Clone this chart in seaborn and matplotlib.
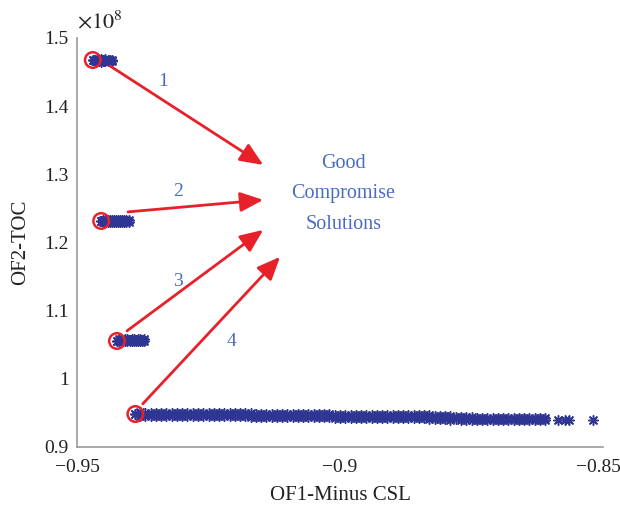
import matplotlib
matplotlib.use("Agg")
import matplotlib.pyplot as plt
import matplotlib.transforms as mtransforms
import seaborn as sns
import pandas as pd

# ---- Pareto front data (OF1 = -CSL, OF2 = TOC in units of 1e8) ----
# Front 1
x1 = [-0.9470, -0.9466, -0.9462, -0.9458, -0.9454, -0.9450, -0.9446, -0.9442, -0.9438, -0.9434]
y1_hi = [1.4677, 1.4684, 1.4685, 1.4683, 1.4686, 1.4684, 1.4685, 1.4683, 1.4684, 1.4682]
y1_lo = [1.4677, 1.4658, 1.4656, 1.4659, 1.4655, 1.4657, 1.4656, 1.4658, 1.4657, 1.4659]

# Front 2
x2 = [-0.9454, -0.9450, -0.9446, -0.9442, -0.9438, -0.9434, -0.9430, -0.9426, -0.9422,
      -0.9418, -0.9414, -0.9410, -0.9406, -0.9402]
y2_hi = [1.2316, 1.2330, 1.2331, 1.2329, 1.2330, 1.2331, 1.2329, 1.2330, 1.2330,
         1.2329, 1.2331, 1.2330, 1.2329, 1.2330]
y2_lo = [1.2316, 1.2303, 1.2302, 1.2304, 1.2302, 1.2303, 1.2302, 1.2304, 1.2303,
         1.2302, 1.2303, 1.2304, 1.2302, 1.2303]

# Front 3
x3 = [-0.9424, -0.9420, -0.9416, -0.9412, -0.9408, -0.9404, -0.9400, -0.9396, -0.9392,
      -0.9388, -0.9384, -0.9380, -0.9376, -0.9372]
y3_hi = [1.0555, 1.0578, 1.0579, 1.0577, 1.0578, 1.0579, 1.0577, 1.0578, 1.0578,
         1.0577, 1.0579, 1.0578, 1.0577, 1.0578]
y3_lo = [1.0555, 1.0553, 1.0552, 1.0554, 1.0552, 1.0553, 1.0552, 1.0554, 1.0553,
         1.0552, 1.0553, 1.0554, 1.0552, 1.0553]

# Front 4 (long front)
x4 = [-0.9389,
      -0.938, -0.937, -0.936, -0.935, -0.934, -0.933, -0.932, -0.931, -0.930, -0.929,
      -0.928, -0.927, -0.926, -0.925, -0.924, -0.923, -0.922, -0.921, -0.920, -0.919,
      -0.918, -0.917, -0.916, -0.915, -0.914, -0.913, -0.912, -0.911, -0.910, -0.909,
      -0.908, -0.907, -0.906, -0.905, -0.904, -0.903, -0.902, -0.901, -0.900, -0.899,
      -0.898, -0.897, -0.896, -0.895, -0.894, -0.893, -0.892, -0.891, -0.890, -0.889,
      -0.888, -0.887, -0.886, -0.885, -0.884, -0.883, -0.882, -0.881, -0.880, -0.879,
      -0.878, -0.877, -0.876, -0.875, -0.874, -0.873, -0.872, -0.871, -0.870, -0.869,
      -0.868, -0.867, -0.866, -0.865, -0.864, -0.863, -0.862, -0.861]
y4_hi = [0.9484,
         0.9507, 0.9505, 0.9506, 0.9504, 0.9503, 0.9504, 0.9502, 0.9501, 0.9502, 0.9500,
         0.9500, 0.9499, 0.9499, 0.9497, 0.9498, 0.9496, 0.9496, 0.9495, 0.9495, 0.9493,
         0.9493, 0.9492, 0.9491, 0.9491, 0.9489, 0.9489, 0.9487, 0.9487, 0.9485, 0.9485,
         0.9484, 0.9482, 0.9482, 0.9480, 0.9480, 0.9478, 0.9478, 0.9476, 0.9476, 0.9474,
         0.9474, 0.9473, 0.9472, 0.9472, 0.9471, 0.9470, 0.9470, 0.9469, 0.9468, 0.9468,
         0.9467, 0.9466, 0.9466, 0.9465, 0.9465, 0.9464, 0.9460, 0.9456, 0.9452, 0.9448,
         0.9437, 0.9435, 0.9434, 0.9433, 0.9432, 0.9432, 0.9431, 0.9431, 0.9430, 0.9430,
         0.9429, 0.9429, 0.9428, 0.9428, 0.9427, 0.9427, 0.9426, 0.9426]
y4_lo = [0.9484,
         0.9461, 0.9462, 0.9460, 0.9460, 0.9459, 0.9458, 0.9458, 0.9457, 0.9456, 0.9456,
         0.9455, 0.9454, 0.9454, 0.9453, 0.9452, 0.9452, 0.9451, 0.9450, 0.9450, 0.9449,
         0.9448, 0.9447, 0.9447, 0.9446, 0.9444, 0.9444, 0.9443, 0.9442, 0.9441, 0.9440,
         0.9439, 0.9438, 0.9437, 0.9436, 0.9435, 0.9434, 0.9433, 0.9432, 0.9431, 0.9430,
         0.9429, 0.9428, 0.9427, 0.9427, 0.9426, 0.9425, 0.9425, 0.9424, 0.9423, 0.9423,
         0.9421, 0.9420, 0.9420, 0.9419, 0.9419, 0.9418, 0.9414, 0.9410, 0.9406, 0.9402,
         0.9405, 0.9403, 0.9402, 0.9401, 0.9400, 0.9400, 0.9399, 0.9399, 0.9398, 0.9398,
         0.9397, 0.9397, 0.9396, 0.9396, 0.9395, 0.9395, 0.9394, 0.9394]
# sparse tail of front 4
x4_tail = [-0.8585, -0.8572, -0.8565, -0.8519]
y4_tail = [0.9398, 0.9397, 0.9396, 0.9396]

front_labels = ["1", "2", "3", "4"]
x_ticks = [-0.95, -0.9, -0.85]
x_tick_labels = ["\u22120.95", "\u22120.9", "\u22120.85"]
y_ticks = [0.9, 1.0, 1.1, 1.2, 1.3, 1.4, 1.5]
y_tick_labels = ["0.9", "1", "1.1", "1.2", "1.3", "1.4", "1.5"]

rows = []
for xs, yh, yl in [(x1, y1_hi, y1_lo), (x2, y2_hi, y2_lo), (x3, y3_hi, y3_lo), (x4, y4_hi, y4_lo)]:
    rows += list(zip(xs, yh)) + list(zip(xs, yl))
rows += list(zip(x4_tail, y4_tail))
df = pd.DataFrame(rows, columns=["OF1", "OF2"])

# selected compromise solutions (first point of each front)
sel = pd.DataFrame({"OF1": [x1[0], x2[0], x3[0], x4[0]],
                    "OF2": [y1_hi[0], y2_hi[0], y3_hi[0], y4_hi[0]]})

sns.set_style("white")
plt.rcParams["font.family"] = ["Liberation Serif", "DejaVu Serif"]
plt.rcParams["mathtext.fontset"] = "stix"

fig = plt.figure(figsize=(6.2, 5.08), dpi=100)
ax = fig.add_axes([77 / 620, 61 / 508, 526 / 620, 409 / 508])

# asterisk markers (8 arms)
sns.scatterplot(data=df, x="OF1", y="OF2", marker=(8, 2, 0), s=48, color="#2f3593",
                linewidth=1.1, ax=ax, zorder=2)
sns.scatterplot(data=sel, x="OF1", y="OF2", marker="o", s=125, facecolor="none",
                edgecolor="#e8202a", linewidth=1.8, ax=ax, zorder=4)

ax.set_xlim(-0.95, -0.85)
ax.set_ylim(0.9, 1.5)
ax.set_xticks(x_ticks)
ax.set_xticklabels(x_tick_labels)
ax.set_yticks(y_ticks)
ax.set_yticklabels(y_tick_labels)
ax.tick_params(direction="in", length=4, width=1, colors="#9a9a9a",
               labelcolor="#222222", labelsize=14)
ax.tick_params(axis="y", pad=6)
ax.tick_params(axis="x", pad=9)
# keep the last x tick label inside the canvas
last = ax.get_xticklabels()[-1]
last.set_transform(last.get_transform() +
                   mtransforms.ScaledTranslation(-5 / 100, 0, fig.dpi_scale_trans))
for side in ["top", "right"]:
    ax.spines[side].set_visible(False)
for side in ["left", "bottom"]:
    ax.spines[side].set_color("#9a9a9a")
    ax.spines[side].set_linewidth(1.2)

ax.set_xlabel("OF1-Minus CSL", fontsize=15, color="#222222", labelpad=7)
ax.set_ylabel("OF2-TOC", fontsize=15, color="#222222", labelpad=10)
ax.text(-0.9500, 1.507, r"$\times10^{8}$", fontsize=16, color="#222222",
        ha="left", va="bottom")

# arrows from the selected solutions to the compromise note
arrow_starts = [(-0.9437, 1.4589), (-0.9403, 1.2449), (-0.9405, 1.0703), (-0.9375, 0.9633)]
arrow_ends = [(-0.9146, 1.3138), (-0.9146, 1.2625), (-0.9146, 1.2185), (-0.9114, 1.1789)]
for s0, e0 in zip(arrow_starts, arrow_ends):
    ax.annotate("", xy=e0, xytext=s0,
                arrowprops=dict(arrowstyle="-|>,head_length=0.7,head_width=0.3",
                                color="#e8202a", lw=2, shrinkA=0, shrinkB=0,
                                mutation_scale=20), zorder=5)

label_pos = [(-0.9337, 1.4355), (-0.9308, 1.2741), (-0.9308, 1.1435), (-0.9207, 1.0541)]
for lab, (lx, ly) in zip(front_labels, label_pos):
    ax.text(lx, ly, lab, fontsize=14, color="#4a6cc0", ha="center", va="center")

for txt, ty in zip(["Good", "Compromise", "Solutions"], [1.3166, 1.2726, 1.2271]):
    ax.text(-0.8994, ty, txt, fontsize=14.5, color="#4a6cc0", ha="center", va="center")

fig.savefig("out.png", dpi=100)
